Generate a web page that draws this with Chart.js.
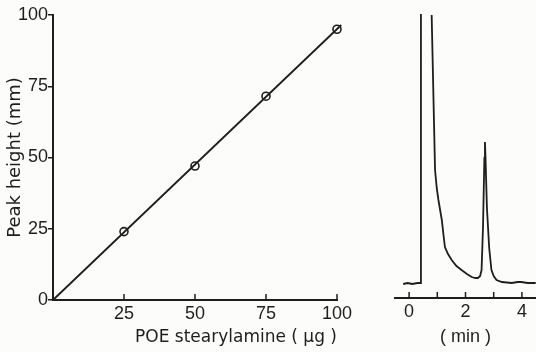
<!DOCTYPE html>
<html>
<head>
<meta charset="utf-8">
<script src="https://cdn.jsdelivr.net/npm/chart.js@4"></script>
<style>
  body { margin: 0; background: #fcfcfa; }
  #wrap { position: relative; width: 536px; height: 352px; overflow: hidden; }
  canvas { position: absolute; top: 0; }
  #calib { left: 0; }
  #chrom { left: 370px; }
</style>
</head>
<body>
<div id="wrap">
  <canvas id="calib" width="370" height="352"></canvas>
  <canvas id="chrom" width="166" height="352"></canvas>
</div>
<script>
// calibration curve (left)
const amountUg = [25, 50, 75, 100];
const peakHeightMm = [24, 47, 71.5, 95];
const fitLineX = [0, 101.5];
const fitLineY = [0, 96.5];
const calibXTicks = [0, 25, 50, 75, 100];
const calibYTicks = [0, 25, 50, 75, 100];

// chromatogram trace (right), time in min, signal in arbitrary units
const traceTime = [-0.21, -0.05, 0.11, 0.30, 0.40, 0.42, 0.60, 0.80, 0.92, 0.98, 1.04, 1.10, 1.16, 1.22, 1.27,
  1.38, 1.51, 1.68, 1.86, 2.05, 2.22, 2.35, 2.44, 2.52, 2.57, 2.62, 2.67, 2.69, 2.71, 2.76, 2.84, 2.92,
  3.00, 3.10, 3.29, 3.64, 3.85, 3.98, 4.20, 4.49];
const traceSignal = [14, 15, 14, 15, 15, 284, null, 283, 128, 110, 98, 88, 78, 63, 51,
  44, 38, 32, 28, 24, 21, 20, 20, 22, 28, 70, 140, 156, 140, 90, 50, 28,
  22, 18, 16, 15, 16, 16, 15, 15];
const timeTicks = [0, 1, 2, 3, 4];

const ink = "#1e1e1e";
const tickFont = { family: "'Liberation Sans', Arial, sans-serif", size: 18 };
const titleFont = { family: "'DejaVu Sans', sans-serif", size: 18 };

// small tick marks pointing up into the plot from the x axis
const innerTicks = {
  id: "innerTicks",
  afterDraw(chart) {
    const sx = chart.scales.x;
    const ctx = chart.ctx;
    const y0 = chart.chartArea.bottom;
    ctx.save();
    ctx.strokeStyle = ink;
    ctx.lineWidth = 1.5;
    sx.ticks.forEach(t => {
      if (t.value === 0 && chart.canvas.id === "calib") return;
      const x = sx.getPixelForValue(t.value);
      ctx.beginPath();
      ctx.moveTo(x, y0);
      ctx.lineTo(x, y0 - 6);
      ctx.stroke();
    });
    ctx.restore();
  }
};

new Chart(document.getElementById("calib"), {
  type: "scatter",
  data: {
    datasets: [
      {
        type: "line",
        data: fitLineX.map((x, i) => ({ x, y: fitLineY[i] })),
        borderColor: ink,
        borderWidth: 1.8,
        pointRadius: 0,
        clip: false
      },
      {
        data: amountUg.map((x, i) => ({ x, y: peakHeightMm[i] })),
        pointRadius: 4,
        pointBackgroundColor: "#fcfcfa",
        pointBorderColor: ink,
        pointBorderWidth: 1.6,
        clip: false
      }
    ]
  },
  options: {
    responsive: false,
    animation: false,
    layout: { padding: { left: 0, top: 15, right: 33, bottom: 0 } },
    plugins: { legend: { display: false }, tooltip: { enabled: false } },
    scales: {
      x: {
        type: "linear",
        min: 0,
        max: 100,
        afterBuildTicks: s => { s.ticks = calibXTicks.map(v => ({ value: v })); },
        afterFit: s => { s.height = 52; },
        grid: { drawOnChartArea: false, drawTicks: false },
        border: { display: true, color: ink, width: 2 },
        ticks: {
          color: ink,
          font: tickFont,
          padding: 3,
          maxRotation: 0,
          callback: v => (v === 0 ? "" : v)
        },
        title: {
          display: true,
          text: "POE stearylamine ( μg )",
          color: ink,
          font: { family: titleFont.family, size: 17 },
          align: "end",
          padding: { top: 0, bottom: 4 }
        }
      },
      y: {
        min: 0,
        max: 100,
        afterBuildTicks: s => { s.ticks = calibYTicks.map(v => ({ value: v })); },
        afterFit: s => { s.width = 53; },
        grid: { drawOnChartArea: false, tickLength: 5, color: ink, lineWidth: 1.5 },
        border: { display: true, color: ink, width: 2 },
        ticks: { color: ink, font: tickFont, padding: 0 },
        title: {
          display: true,
          text: "Peak height (mm)",
          color: ink,
          font: titleFont,
          padding: { top: 5, bottom: 0 }
        }
      }
    }
  },
  plugins: [innerTicks]
});

new Chart(document.getElementById("chrom"), {
  type: "line",
  data: {
    datasets: [{
      data: traceTime.map((x, i) => ({ x, y: traceSignal[i] })),
      borderColor: ink,
      borderWidth: 1.8,
      pointRadius: 0,
      spanGaps: false,
      tension: 0
    }]
  },
  options: {
    responsive: false,
    animation: false,
    layout: { padding: { left: 25, top: 14, right: 0, bottom: 0 } },
    plugins: { legend: { display: false }, tooltip: { enabled: false } },
    scales: {
      x: {
        type: "linear",
        min: -0.5,
        max: 4.5,
        afterBuildTicks: s => { s.ticks = timeTicks.map(v => ({ value: v })); },
        afterFit: s => { s.height = 54; },
        grid: { drawOnChartArea: false, drawTicks: false },
        border: { display: true, color: ink, width: 2 },
        ticks: {
          color: ink,
          font: tickFont,
          padding: 3,
          maxRotation: 0,
          autoSkip: false,
          callback: v => (v % 2 === 0 ? v : "")
        },
        title: {
          display: true,
          text: "( min )",
          color: ink,
          font: tickFont,
          padding: { top: 0, bottom: 4 }
        }
      },
      y: { display: false, min: 0, max: 284 }
    }
  },
  plugins: [innerTicks]
});
</script>
</body>
</html>
